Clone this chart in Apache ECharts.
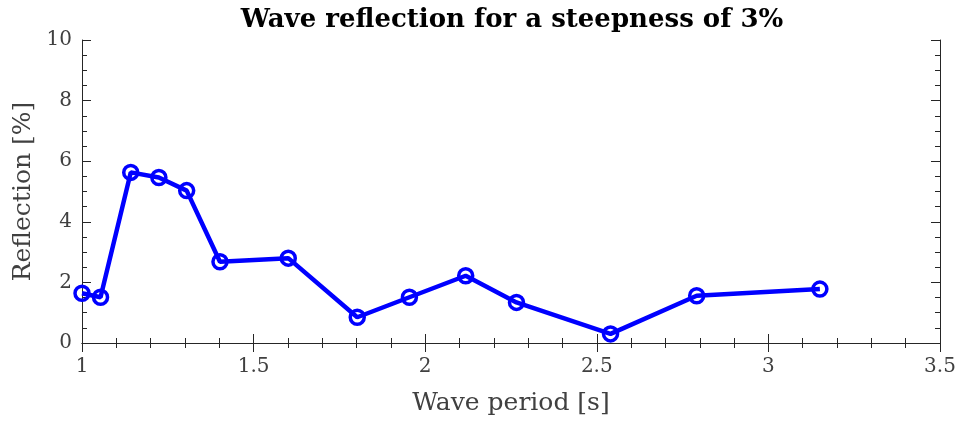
<!DOCTYPE html>
<html>
<head>
<meta charset="utf-8">
<script src="https://cdn.jsdelivr.net/npm/echarts@6/dist/echarts.min.js"></script>
<style>html,body{margin:0;padding:0;background:#fff;}#c{width:960px;height:421px;}</style>
</head>
<body>
<div id="c"></div>
<script>
const wavePeriod = [1.00, 1.054, 1.142, 1.224, 1.305, 1.402, 1.601, 1.802, 1.954, 2.118, 2.266, 2.540, 2.791, 3.150];
const reflection = [1.64, 1.51, 5.63, 5.46, 5.03, 2.68, 2.80, 0.85, 1.51, 2.22, 1.34, 0.30, 1.56, 1.78];
const titleText = 'Wave reflection for a steepness of 3%';
const xLabel = 'Wave period [s]';
const yLabel = 'Reflection [%]';

const FONT = '"DejaVu Serif", "Liberation Serif", serif';
const AX = '#262626';
const LBL = '#404040';
const data = wavePeriod.map((x, i) => [x, reflection[i]]);

const chart = echarts.init(document.getElementById('c'), null, {renderer: 'canvas'});
const baseX = {
  type: 'value', min: 1, max: 3.5, interval: 0.5,
  axisLine: {show: true, lineStyle: {color: AX, width: 1}},
  axisTick: {show: true, inside: true, length: 9, lineStyle: {color: AX}},
  minorTick: {show: true, splitNumber: 5, length: 5, lineStyle: {color: AX}},
  splitLine: {show: false}
};
const baseY = {
  type: 'value', min: 0, max: 10, interval: 2,
  axisLine: {show: true, lineStyle: {color: AX, width: 1}},
  axisTick: {show: true, inside: true, length: 9, lineStyle: {color: AX}},
  minorTick: {show: true, splitNumber: 4, length: 5, lineStyle: {color: AX}},
  splitLine: {show: false}
};
chart.setOption({
  animation: false,
  title: {
    text: titleText, left: 507, top: 2, textAlign: 'center',
    textStyle: {fontFamily: FONT, fontWeight: 'bold', fontSize: 26, color: '#000'}
  },
  grid: {left: 82, right: 20, top: 40, bottom: 78},
  xAxis: [
    Object.assign({}, baseX, {
      position: 'bottom',
      name: xLabel, nameLocation: 'middle', nameGap: 48,
      nameTextStyle: {fontFamily: FONT, fontSize: 25, color: LBL},
      axisLabel: {fontFamily: FONT, fontSize: 20, color: LBL, margin: 14,
        formatter: v => String(v)}
    }),
    Object.assign({}, baseX, {position: 'top', axisLabel: {show: false}})
  ],
  yAxis: [
    Object.assign({}, baseY, {
      position: 'left',
      name: yLabel, nameLocation: 'middle', nameGap: 41, nameRotate: 90,
      nameTextStyle: {fontFamily: FONT, fontSize: 25, color: LBL},
      axisLabel: {fontFamily: FONT, fontSize: 20, color: LBL, margin: 10}
    }),
    Object.assign({}, baseY, {position: 'right', axisLabel: {show: false}})
  ],
  series: [{
    type: 'line', data: data, xAxisIndex: 0, yAxisIndex: 0,
    lineStyle: {color: '#0000ff', width: 4.5},
    symbol: 'circle', symbolSize: 14,
    itemStyle: {color: 'rgba(0,0,0,0)', borderColor: '#0000ff', borderWidth: 3.5},
    z: 3
  }]
});
</script>
</body>
</html>
